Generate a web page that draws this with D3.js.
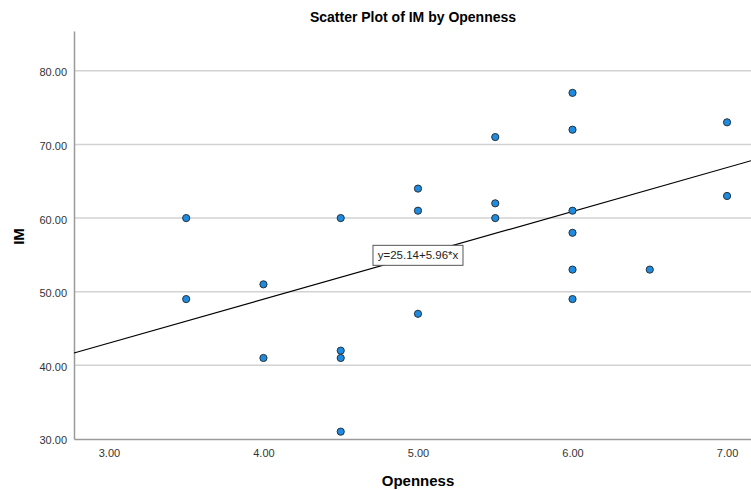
<!DOCTYPE html>
<html>
<head>
<meta charset="utf-8">
<script src="https://cdn.jsdelivr.net/npm/d3@7"></script>
<style>
  body { margin: 0; background: #fff; }
  text { font-family: Arial, "Liberation Sans", sans-serif; }
</style>
</head>
<body>
<div id="chart"></div>
<script>
// data
var openness = [3.5, 3.5, 4.0, 4.0, 4.5, 4.5, 4.5, 4.5, 5.0, 5.0, 5.0, 5.5, 5.5, 5.5,
                6.0, 6.0, 6.0, 6.0, 6.0, 6.0, 6.5, 7.0, 7.0];
var im = [60, 49, 51, 41, 60, 42, 41, 31, 64, 61, 47, 71, 62, 60,
          77, 72, 61, 58, 53, 49, 53, 73, 63];
var xTicks = [3, 4, 5, 6, 7];
var yTicks = [30, 40, 50, 60, 70, 80];
var fitIntercept = 25.14;
var fitSlope = 5.96;

var W = 751, H = 490;
var margin = {top: 31, right: 0, bottom: 51, left: 74};
var width = W - margin.left - margin.right,
    height = H - margin.top - margin.bottom;

var svg = d3.select("#chart").append("svg")
  .attr("width", W).attr("height", H);
var g = svg.append("g")
  .attr("transform", "translate(" + margin.left + "," + margin.top + ")");

var x = d3.scaleLinear().domain([2.774, 7.155]).range([0, width]);
var y = d3.scaleLinear().domain([30, 85.4]).range([height, 0]);

// grid lines
g.selectAll(".grid")
  .data(yTicks.filter(function(d) { return d > 30; }))
  .enter().append("line")
    .attr("x1", 0).attr("x2", width)
    .attr("y1", function(d) { return y(d); })
    .attr("y2", function(d) { return y(d); })
    .attr("stroke", "#d2d2d2")
    .attr("stroke-width", 1.5);

// axes
var yAxis = g.append("g")
  .call(d3.axisLeft(y).tickValues(yTicks).tickSize(0).tickPadding(7)
    .tickFormat(d3.format(".2f")));
var xAxis = g.append("g")
  .attr("transform", "translate(0," + height + ")")
  .call(d3.axisBottom(x).tickValues(xTicks).tickSize(0).tickPadding(10)
    .tickFormat(d3.format(".2f")));
[xAxis, yAxis].forEach(function(a) {
  a.select(".domain").attr("stroke", "#9a9a9a").attr("stroke-width", 1.5);
  a.selectAll("text").attr("font-size", 11).attr("fill", "#333")
    .attr("font-family", "Arial, 'Liberation Sans', sans-serif");
});
yAxis.selectAll("text").attr("dy", "0.45em");

// fit line
var x0 = x.domain()[0], x1 = x.domain()[1];
g.append("line")
  .attr("x1", x(x0)).attr("y1", y(fitIntercept + fitSlope * x0))
  .attr("x2", x(x1)).attr("y2", y(fitIntercept + fitSlope * x1))
  .attr("stroke", "#000").attr("stroke-width", 1.2);

// points
g.selectAll(".pt")
  .data(openness.map(function(d, i) { return {x: d, y: im[i]}; }))
  .enter().append("circle")
    .attr("cx", function(d) { return x(d.x); })
    .attr("cy", function(d) { return y(d.y); })
    .attr("r", 3.6)
    .attr("fill", "#1f8be0")
    .attr("stroke", "#263238")
    .attr("stroke-width", 1);

// equation label
var lx = 5.0, ly = fitIntercept + fitSlope * lx;
var lab = g.append("g").attr("transform", "translate(" + x(lx) + "," + y(ly) + ")");
lab.append("rect")
  .attr("x", -45).attr("y", -10).attr("width", 90).attr("height", 20)
  .attr("fill", "#fff").attr("stroke", "#555").attr("stroke-width", 1);
lab.append("text")
  .attr("text-anchor", "middle").attr("dy", "0.35em")
  .attr("font-size", 11.5).attr("fill", "#222")
  .text("y=25.14+5.96*x");

// titles
svg.append("text")
  .attr("x", 413).attr("y", 22)
  .attr("text-anchor", "middle")
  .attr("font-size", 14).attr("font-weight", "bold")
  .text("Scatter Plot of IM by Openness");
svg.append("text")
  .attr("x", 418).attr("y", 486)
  .attr("text-anchor", "middle")
  .attr("font-size", 15).attr("font-weight", "bold")
  .text("Openness");
svg.append("text")
  .attr("transform", "translate(24," + (margin.top + y(57.5)) + ") rotate(-90)")
  .attr("text-anchor", "middle")
  .attr("font-size", 15).attr("font-weight", "bold")
  .text("IM");
</script>
</body>
</html>
